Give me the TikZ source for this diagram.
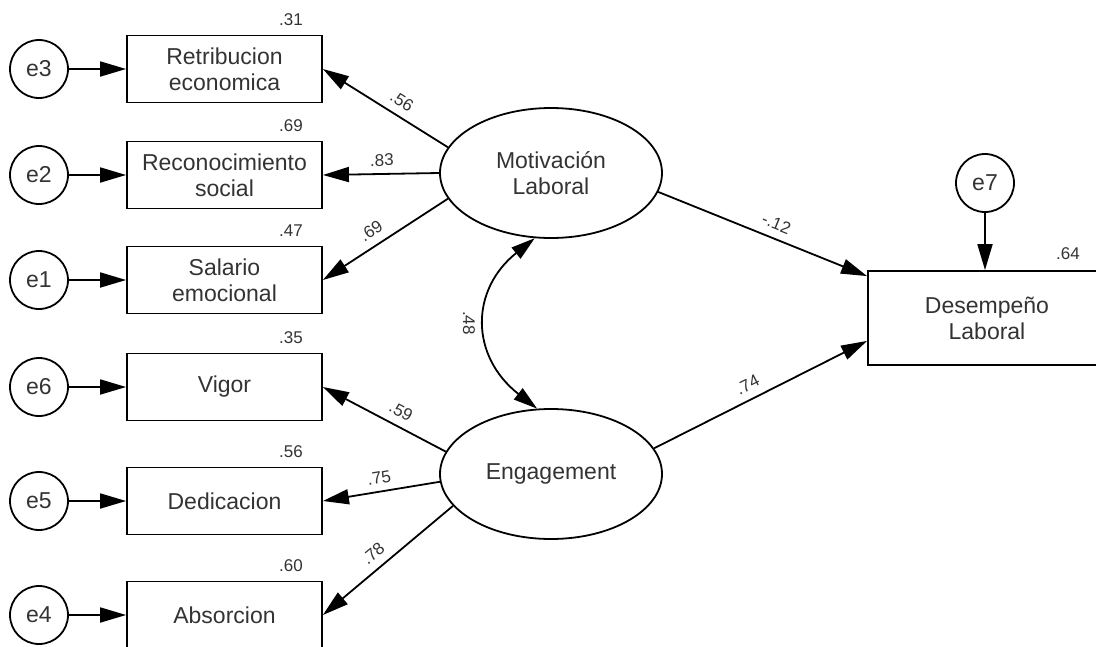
\documentclass[tikz,border=0pt]{standalone}
\usepackage{fontspec}
\setmainfont{Liberation Sans}
\usetikzlibrary{arrows.meta,shapes.geometric}

\begin{document}
\begin{tikzpicture}[x=1pt, y=-1pt, line width=1.8pt,
    font=\fontsize{23}{26}\selectfont, text=black!80,
    obs/.style={draw, rectangle, minimum width=195pt, minimum height=67pt, align=center},
    lat/.style={draw, ellipse, minimum width=222pt, minimum height=130pt, align=center},
    err/.style={draw, circle, minimum size=58pt, inner sep=0pt},
    coef/.style={font=\fontsize{17}{19}\selectfont, inner sep=1pt},
    arr/.style={-{Triangle[length=26pt,width=15pt]}}]
    \useasboundingbox (0,0) rectangle (1096,646);

    % Draw Latent Variables
    \node[lat] (mot) at (551,173) {Motivación\\Laboral};
    \node[lat] (eng) at (551,474) {Engagement};

    % Draw Observed Variables
    % -- motivation side
    \node[obs] (ret) at (224.5,69) {Retribucion\\economica};
    \node[obs] (rec) at (224.5,175) {Reconocimiento\\social};
    \node[obs] (sal) at (224.5,280) {Salario\\emocional};
    % -- engagement side
    \node[obs] (vig) at (224.5,387) {Vigor};
    \node[obs] (ded) at (224.5,501) {Dedicacion};
    \node[obs] (abs) at (224.5,615) {Absorcion};
    % -- outcome
    \node[obs, minimum width=238pt, minimum height=94pt] (des) at (987,318) {Desempeño\\Laboral};

    % Draw Error Terms
    \node[err] (e3) at (39,69) {e3};
    \node[err] (e2) at (39,175) {e2};
    \node[err] (e1) at (39,280) {e1};
    \node[err] (e6) at (39,387) {e6};
    \node[err] (e5) at (39,501) {e5};
    \node[err] (e4) at (39,615) {e4};
    \node[err] (e7) at (985,183) {e7};

    % Error Arrows
    \draw[arr] (e3) -- (ret);
    \draw[arr] (e2) -- (rec);
    \draw[arr] (e1) -- (sal);
    \draw[arr] (e6) -- (vig);
    \draw[arr] (e5) -- (ded);
    \draw[arr] (e4) -- (abs);
    \draw[arr] (e7) -- (e7 |- des.north);

    % Loadings
    \draw[arr] (mot.166) -- node[coef, sloped, above=7pt, pos=.43] (c56) {.56} (ret.east);
    \draw[arr] (mot.180) -- node[coef, sloped, above=6pt, pos=.49] (c83) {.83} (rec.east);
    \draw[arr] (mot.194) -- node[coef, sloped, above=7pt, pos=.55] (c69) {.69} (sal.east);
    \draw[arr] (eng.168) -- node[coef, sloped, above=7pt, pos=.42] (c59) {.59} (vig.east);
    \draw[arr] (eng.184) -- node[coef, sloped, above=6pt, pos=.5] (c75) {.75} (ded.east);
    \draw[arr] (eng.198) -- node[coef, sloped, above=7pt, pos=.54] (c78) {.78} (abs.east);

    % Structural Paths
    \draw[arr] (mot.350) -- node[coef, sloped, above=7pt, pos=.54] (c12) {-.12} ([yshift=-6pt]des.north west);
    \draw[arr] (eng.14) -- node[coef, sloped, above=7pt, pos=.47] (c74) {.74} ([yshift=25pt]des.south west);

    % Covariance
    \draw[{Triangle[length=24pt,width=14pt]}-{Triangle[length=24pt,width=14pt]}]
        (mot.256) .. controls (470,290) and (470,356) .. (eng.102);
    \node[coef, rotate=-90] (c48) at (469,323) {.48};

    % Squared Multiple Correlations
    \node[coef] (r31) at ([xshift=-32pt,yshift=15pt]ret.north east) {.31};
    \node[coef] (r69) at ([xshift=-32pt,yshift=15pt]rec.north east) {.69};
    \node[coef] (r47) at ([xshift=-32pt,yshift=15pt]sal.north east) {.47};
    \node[coef] (r35) at ([xshift=-32pt,yshift=15pt]vig.north east) {.35};
    \node[coef] (r56) at ([xshift=-32pt,yshift=15pt]ded.north east) {.56};
    \node[coef] (r60) at ([xshift=-32pt,yshift=15pt]abs.north east) {.60};
    \node[coef] (r64) at ([xshift=-39pt,yshift=16pt]des.north east) {.64};
\end{tikzpicture}
\end{document}
